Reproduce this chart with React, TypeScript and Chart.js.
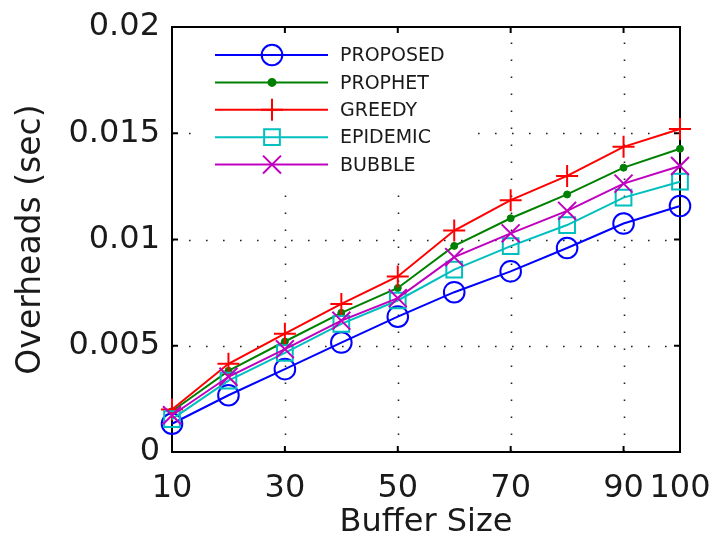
import React, { useEffect, useRef } from 'react';
import { Chart, registerables } from 'chart.js';

Chart.register(...registerables);

// ---- data ----
const bufferSizes = [10, 20, 30, 40, 50, 60, 70, 80, 90, 100];
const xTickValues = [10, 30, 50, 70, 90, 100];
const yTickValues = [0, 0.005, 0.01, 0.015, 0.02];

const seriesNames = ['PROPOSED', 'PROPHET', 'GREEDY', 'EPIDEMIC', 'BUBBLE'];
const proposed = [0.00133, 0.00267, 0.0039, 0.00515, 0.00637, 0.00752, 0.0085, 0.0096, 0.01075, 0.01158];
const prophet = [0.00192, 0.00382, 0.0052, 0.00655, 0.00772, 0.0097, 0.011, 0.01212, 0.01338, 0.01427];
const greedy = [0.002, 0.00415, 0.00557, 0.00697, 0.00826, 0.01042, 0.01185, 0.01299, 0.01436, 0.0152];
const epidemic = [0.00155, 0.00336, 0.00466, 0.00603, 0.00713, 0.00858, 0.00969, 0.01068, 0.01197, 0.01272];
const bubble = [0.00173, 0.00354, 0.00484, 0.00618, 0.00724, 0.00917, 0.01029, 0.01135, 0.01263, 0.01346];
const seriesValues = [proposed, prophet, greedy, epidemic, bubble];

// ---- styles ----
const seriesColors = ['#0000ff', '#008000', '#ff0000', '#00bfbf', '#bf00bf'];
const seriesMarkers = ['circle', 'circle', 'cross', 'rect', 'crossRot'];
const markerRadii = [10.3, 3.5, 11, 11.1, 12.7];
const markerFilled = [false, true, false, false, false];

const FONT = '"DejaVu Sans", Verdana, sans-serif';
const TEXT = '#1a1a1a';

function drawMarker(ctx: CanvasRenderingContext2D, style: string, x: number, y: number, r: number, color: string, filled: boolean) {
  ctx.save();
  ctx.strokeStyle = color;
  ctx.fillStyle = color;
  ctx.lineWidth = 2;
  ctx.setLineDash([]);
  ctx.beginPath();
  if (style === 'circle') {
    ctx.arc(x, y, r, 0, Math.PI * 2);
    if (filled) ctx.fill();
    ctx.stroke();
  } else if (style === 'rect') {
    const s = r * Math.SQRT1_2;
    ctx.rect(x - s, y - s, 2 * s, 2 * s);
    ctx.stroke();
  } else if (style === 'cross') {
    ctx.moveTo(x - r, y); ctx.lineTo(x + r, y);
    ctx.moveTo(x, y - r); ctx.lineTo(x, y + r);
    ctx.stroke();
  } else if (style === 'crossRot') {
    const d = r * Math.SQRT1_2;
    ctx.moveTo(x - d, y - d); ctx.lineTo(x + d, y + d);
    ctx.moveTo(x + d, y - d); ctx.lineTo(x - d, y + d);
    ctx.stroke();
  }
  ctx.restore();
}

const framePlugin = {
  id: 'matlabFrame',
  beforeDatasetsDraw(chart: any) {
    const { ctx, chartArea: a, scales } = chart;
    const xs = scales.x;
    const ys = scales.y;
    ctx.save();
    // dotted grid
    ctx.strokeStyle = '#222';
    ctx.lineWidth = 1.6;
    ctx.setLineDash([1.6, 15.4]);
    xTickValues.forEach((v) => {
      if (v === xs.min || v === xs.max) return;
      const px = Math.round(xs.getPixelForValue(v)) + 0.5;
      ctx.beginPath();
      ctx.moveTo(px, a.bottom);
      ctx.lineTo(px, a.top);
      ctx.stroke();
    });
    yTickValues.forEach((v) => {
      if (v === ys.min || v === ys.max) return;
      const py = Math.round(ys.getPixelForValue(v)) + 0.5;
      ctx.beginPath();
      ctx.moveTo(a.left, py);
      ctx.lineTo(a.right, py);
      ctx.stroke();
    });
    ctx.setLineDash([]);

    // legend background
    const lx0 = 192, ly0 = a.top + 1, lx1 = 470, ly1 = 190;
    ctx.fillStyle = '#ffffff';
    ctx.fillRect(lx0, ly0, lx1 - lx0, ly1 - ly0);

    // box
    ctx.strokeStyle = '#000';
    ctx.lineWidth = 2;
    ctx.strokeRect(a.left, a.top, a.right - a.left, a.bottom - a.top);

    // inward ticks
    const tl = 6;
    ctx.beginPath();
    xTickValues.forEach((v) => {
      if (v === xs.min || v === xs.max) return;
      const px = xs.getPixelForValue(v);
      ctx.moveTo(px, a.bottom); ctx.lineTo(px, a.bottom - tl);
      ctx.moveTo(px, a.top); ctx.lineTo(px, a.top + tl);
    });
    yTickValues.forEach((v) => {
      if (v === ys.min || v === ys.max) return;
      const py = ys.getPixelForValue(v);
      ctx.moveTo(a.left, py); ctx.lineTo(a.left + tl, py);
      ctx.moveTo(a.right, py); ctx.lineTo(a.right - tl, py);
    });
    ctx.stroke();

    // legend entries
    const rowY0 = 55;
    const rowGap = 27.4;
    seriesNames.forEach((name, i) => {
      const yy = rowY0 + i * rowGap;
      ctx.strokeStyle = seriesColors[i];
      ctx.lineWidth = 2;
      ctx.beginPath();
      ctx.moveTo(215, yy);
      ctx.lineTo(328, yy);
      ctx.stroke();
      drawMarker(ctx, seriesMarkers[i], 272, yy, markerRadii[i], seriesColors[i], markerFilled[i]);
      ctx.fillStyle = TEXT;
      ctx.font = `19px ${FONT}`;
      ctx.textAlign = 'left';
      ctx.textBaseline = 'middle';
      ctx.fillText(name, 340, yy + 1.2);
    });
    ctx.restore();
  },
};

export default function App() {
  const ref = useRef<HTMLCanvasElement | null>(null);

  useEffect(() => {
    document.body.style.margin = '0';
    const canvas = ref.current;
    if (!canvas) return;
    const datasets = seriesNames.map((name, i) => ({
      label: name,
      data: bufferSizes.map((x, j) => ({ x, y: seriesValues[i][j] })),
      borderColor: seriesColors[i],
      backgroundColor: seriesColors[i],
      borderWidth: 2,
      pointStyle: seriesMarkers[i],
      pointRadius: markerRadii[i],
      pointBorderWidth: markerFilled[i] ? 1 : 2,
      pointBorderColor: seriesColors[i],
      pointBackgroundColor: markerFilled[i] ? seriesColors[i] : 'rgba(0,0,0,0)',
      tension: 0,
      fill: false,
      clip: false as any,
      order: seriesNames.length - i,
    }));

    const chart = new Chart(canvas, {
      type: 'line',
      data: { datasets },
      options: {
        responsive: false,
        animation: false,
        devicePixelRatio: 1,
        layout: { padding: { top: 27, right: 34, left: 0, bottom: 0 } },
        plugins: {
          legend: { display: false },
          tooltip: { enabled: false },
        },
        scales: {
          x: {
            type: 'linear',
            min: 10,
            max: 100,
            afterBuildTicks: (s: any) => {
              s.ticks = xTickValues.map((v) => ({ value: v }));
            },
            afterFit: (s: any) => {
              s.height = 94;
              s.paddingLeft = 0;
              s.paddingRight = 0;
            },
            grid: { display: false, drawTicks: false },
            border: { display: false },
            ticks: {
              autoSkip: false,
              maxRotation: 0,
              minRotation: 0,
              padding: 17,
              color: TEXT,
              font: { family: FONT, size: 32 },
              callback: (v: any) => String(v),
            },
            title: {
              display: true,
              text: 'Buffer Size',
              color: TEXT,
              font: { family: FONT, size: 32 },
              padding: { top: 0, bottom: 4 },
            },
          },
          y: {
            type: 'linear',
            min: 0,
            max: 0.02,
            afterBuildTicks: (s: any) => {
              s.ticks = yTickValues.map((v) => ({ value: v }));
            },
            afterFit: (s: any) => {
              s.width = 172;
              s.paddingTop = 0;
              s.paddingBottom = 0;
            },
            grid: { display: false, drawTicks: false },
            border: { display: false },
            ticks: {
              padding: 12,
              color: TEXT,
              font: { family: FONT, size: 32 },
              callback: (v: any) => (v === 0 ? '0' : String(Number(Number(v).toFixed(4)))),
            },
            title: {
              display: true,
              text: 'Overheads (sec)',
              color: TEXT,
              font: { family: FONT, size: 33 },
              padding: { top: 12, bottom: 0 },
            },
          },
        },
      },
      plugins: [framePlugin],
    } as any);
    return () => chart.destroy();
  }, []);

  return (
    <div style={{ position: 'fixed', left: 0, top: 0, width: 714, height: 546, background: '#fff' }}>
      <canvas ref={ref} width={714} height={546} style={{ display: 'block' }} />
    </div>
  );
}
